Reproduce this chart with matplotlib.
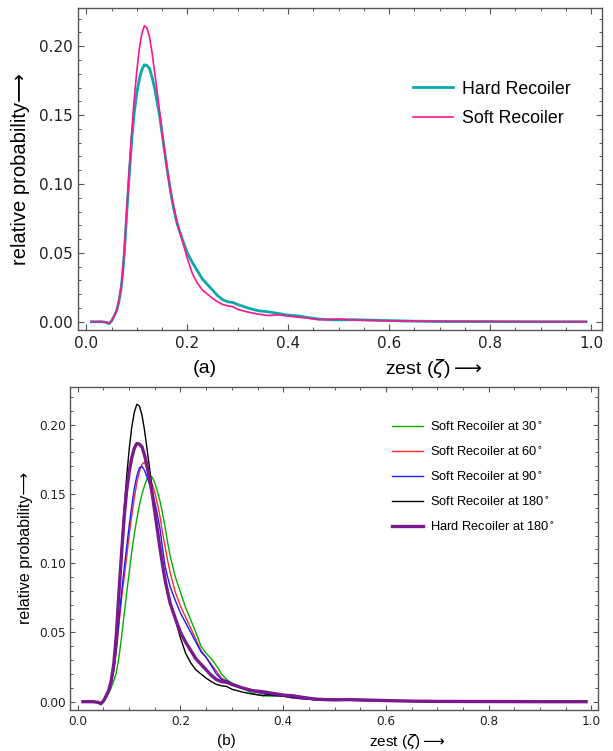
import matplotlib
matplotlib.use('Agg')
from matplotlib import pyplot as plt
from matplotlib.ticker import MultipleLocator

# zest values where the curves were read
zest = [0.01, 0.02, 0.03, 0.04, 0.045, 0.05, 0.055, 0.06, 0.065, 0.07, 0.075, 0.08,
        0.085, 0.09, 0.095, 0.10, 0.105, 0.11, 0.115, 0.12, 0.125, 0.13, 0.135, 0.14,
        0.145, 0.15, 0.155, 0.16, 0.165, 0.17, 0.175, 0.18, 0.19, 0.20, 0.21, 0.22,
        0.23, 0.24, 0.25, 0.26, 0.27, 0.28, 0.29, 0.30, 0.32, 0.34, 0.36, 0.38, 0.40,
        0.42, 0.44, 0.46, 0.48, 0.50, 0.53, 0.56, 0.60, 0.65, 0.70, 0.80, 0.90, 0.99]

hard_180 = [0, 0, 0, -0.0005, -0.0015, 0.0005, 0.004, 0.008, 0.015, 0.027, 0.048, 0.078,
            0.106, 0.132, 0.152, 0.166, 0.176, 0.183, 0.1865, 0.186, 0.184, 0.178, 0.170, 0.160,
            0.150, 0.137, 0.124, 0.111, 0.099, 0.088, 0.079, 0.071, 0.060, 0.050, 0.043, 0.037,
            0.031, 0.027, 0.023, 0.019, 0.016, 0.0145, 0.014, 0.0125, 0.010, 0.008, 0.0072, 0.006, 0.0048,
            0.0042, 0.003, 0.002, 0.0015, 0.0013, 0.0015, 0.0012, 0.0008, 0.0004, 0.0002, 0.0001, 0, 0]

soft_180 = [0, 0, 0, -0.0005, -0.001, 0.0005, 0.004, 0.008, 0.016, 0.028, 0.050, 0.080,
            0.110, 0.138, 0.162, 0.182, 0.198, 0.209, 0.2148, 0.2135, 0.207, 0.196, 0.182, 0.168,
            0.153, 0.138, 0.124, 0.111, 0.099, 0.089, 0.080, 0.072, 0.059, 0.046, 0.035, 0.028,
            0.023, 0.020, 0.017, 0.0145, 0.0125, 0.0115, 0.011, 0.009, 0.007, 0.0055, 0.0045, 0.005, 0.004,
            0.0033, 0.0025, 0.0015, 0.0015, 0.002, 0.0012, 0.0010, 0.0007, 0.0004, 0.0002, 0.0001, 0, 0]

soft_30 = [0, 0, 0, -0.0005, -0.0015, 0.0, 0.003, 0.006, 0.010, 0.015, 0.021, 0.032,
           0.046, 0.062, 0.078, 0.093, 0.108, 0.121, 0.132, 0.142, 0.150, 0.156, 0.161, 0.1635,
           0.162, 0.158, 0.152, 0.145, 0.136, 0.126, 0.115, 0.105, 0.090, 0.079, 0.068, 0.059,
           0.050, 0.040, 0.035, 0.031, 0.026, 0.020, 0.016, 0.0135, 0.010, 0.006, 0.0042, 0.004, 0.0042,
           0.0032, 0.0025, 0.0015, 0.0012, 0.0012, 0.0010, 0.0008, 0.0005, 0.0003, 0.0002, 0.0001, 0, 0]

soft_60 = [0, 0, 0, -0.0005, -0.0015, 0.0003, 0.004, 0.007, 0.013, 0.022, 0.036, 0.055,
           0.074, 0.089, 0.104, 0.120, 0.134, 0.147, 0.158, 0.166, 0.1715, 0.1730, 0.168, 0.163,
           0.157, 0.151, 0.143, 0.134, 0.122, 0.112, 0.102, 0.093, 0.079, 0.069, 0.061, 0.053,
           0.045, 0.037, 0.032, 0.027, 0.022, 0.017, 0.015, 0.013, 0.010, 0.0075, 0.006, 0.0045, 0.004,
           0.0025, 0.002, 0.0015, 0.0012, 0.0012, 0.0010, 0.0008, 0.0005, 0.0003, 0.0002, 0.0001, 0, 0]

soft_90 = [0, 0, 0, -0.0005, -0.0015, 0.0003, 0.004, 0.007, 0.013, 0.023, 0.038, 0.058,
           0.078, 0.095, 0.111, 0.127, 0.141, 0.154, 0.163, 0.169, 0.1700, 0.167, 0.162, 0.157,
           0.151, 0.144, 0.135, 0.125, 0.111, 0.098, 0.090, 0.083, 0.073, 0.064, 0.057, 0.050,
           0.043, 0.036, 0.032, 0.026, 0.020, 0.016, 0.015, 0.013, 0.010, 0.0075, 0.006, 0.0045, 0.004,
           0.0028, 0.002, 0.0015, 0.0012, 0.0012, 0.0010, 0.0008, 0.0005, 0.0003, 0.0002, 0.0001, 0, 0]

label_font = ['Liberation Sans', 'DejaVu Sans']
frame_gray = '#555555'
zest_label = 'zest ($\\zeta$)$\\longrightarrow$'


def style_axes(ax, ticksize, ticklen):
    ax.set_xlim(-0.016, 1.022)
    ax.set_ylim(-0.006, 0.2275)
    ax.xaxis.set_major_locator(MultipleLocator(0.2))
    ax.xaxis.set_minor_locator(MultipleLocator(0.05))
    ax.yaxis.set_major_locator(MultipleLocator(0.05))
    ax.yaxis.set_minor_locator(MultipleLocator(0.01))
    ax.xaxis.set_major_formatter(lambda v, p: f'{v:.1f}')
    ax.yaxis.set_major_formatter(lambda v, p: f'{v:.2f}')
    ax.tick_params(which='both', direction='in', top=True, right=True,
                   color=frame_gray, labelcolor='#222222', labelsize=ticksize, pad=4)
    ax.tick_params(which='major', length=ticklen, width=0.8)
    ax.tick_params(which='minor', length=ticklen * 0.55, width=0.7)
    for s in ax.spines.values():
        s.set_color(frame_gray)
        s.set_linewidth(1.0)


fig = plt.figure(figsize=(6.13, 7.51), dpi=100)

# (a)
ax1 = fig.add_axes([0.1276, 0.5606, 0.8549, 0.4283])
ax1.plot(zest, hard_180, color='#0AA8AA', lw=2.0, label='Hard Recoiler')
ax1.plot(zest, soft_180, color='#FF1493', lw=1.2, label='Soft Recoiler')
style_axes(ax1, 11, 4.5)
ax1.legend(loc='upper left', bbox_to_anchor=(0.639, 0.775), frameon=False,
           prop={'family': label_font, 'size': 12.8}, borderpad=0, borderaxespad=0,
           handlelength=2.25, handletextpad=0.5, labelspacing=0.69)
fig.text(0.034, 0.775, 'relative probability⟶', rotation=90, ha='center', va='center',
         family=label_font, fontsize=14.5)
fig.text(0.334, 0.5087, '(a)', ha='center', va='center', family=label_font, fontsize=14)
fig.text(0.628, 0.5087, zest_label, ha='left', va='center', family=label_font, fontsize=14)

# (b)
ax2 = fig.add_axes([0.1147, 0.0546, 0.8615, 0.4305])
ax2.plot(zest, soft_30, color='#00B000', lw=1.0, label='Soft Recoiler at 30$^{\\circ}$')
ax2.plot(zest, soft_60, color='#FF2A2A', lw=1.0, label='Soft Recoiler at 60$^{\\circ}$')
ax2.plot(zest, soft_90, color='#1A1AFF', lw=1.0, label='Soft Recoiler at 90$^{\\circ}$')
ax2.plot(zest, soft_180, color='black', lw=1.0, label='Soft Recoiler at 180$^{\\circ}$')
ax2.plot(zest, hard_180, color='#7A1A8E', lw=2.4, label='Hard Recoiler at 180$^{\\circ}$')
style_axes(ax2, 8.7, 3.5)
ax2.set_xlim(-0.0146, 1.014)
ax2.tick_params(pad=3.3)
ax2.legend(loc='upper left', bbox_to_anchor=(0.61, 0.8945), frameon=False,
           prop={'family': label_font, 'size': 9.3}, borderpad=0, borderaxespad=0,
           handlelength=2.36, handletextpad=0.57, labelspacing=0.92)
fig.text(0.042, 0.2703, 'relative probability⟶', rotation=90, ha='center', va='center',
         family=label_font, fontsize=11.5)
fig.text(0.370, 0.0133, '(b)', ha='center', va='center', family=label_font, fontsize=11)
fig.text(0.602, 0.0133, zest_label, ha='left', va='center', family=label_font, fontsize=11)

fig.savefig('out.png', dpi=100)
